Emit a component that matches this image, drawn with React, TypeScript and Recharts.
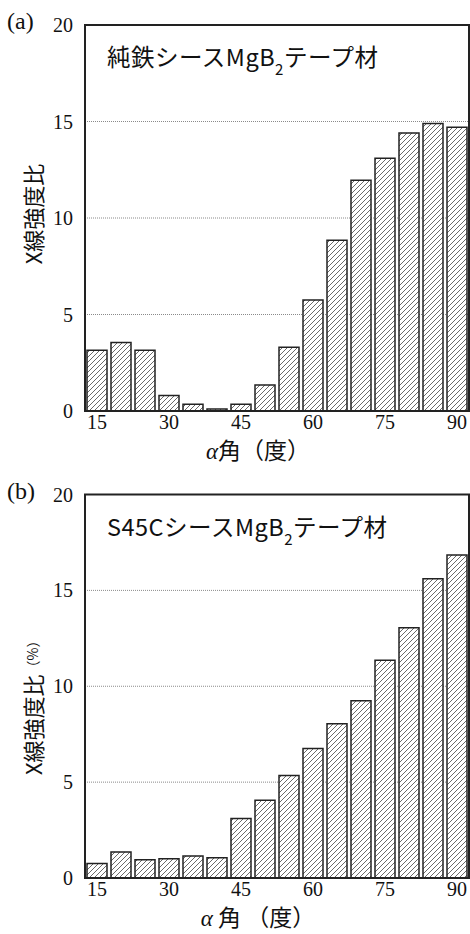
import React from "react";
import {
  BarChart,
  Bar,
  XAxis,
  YAxis,
  CartesianGrid,
  ReferenceArea,
} from "recharts";

const angles = [15, 20, 25, 30, 35, 40, 45, 50, 55, 60, 65, 70, 75, 80, 85, 90];
const pureIronRatio = [3.15, 3.55, 3.15, 0.8, 0.35, 0.1, 0.35, 1.35, 3.3, 5.75, 8.85, 11.95, 13.1, 14.4, 14.9, 14.7];
const s45cRatio = [0.75, 1.35, 0.95, 1.0, 1.15, 1.05, 3.1, 4.05, 5.35, 6.75, 8.05, 9.25, 11.35, 13.05, 15.6, 16.85];
const yTicks = [0, 5, 10, 15, 20];

const serif = "'Liberation Serif', 'DejaVu Serif', serif";
const sans = "'Noto Sans CJK JP', 'Noto Sans', sans-serif";

interface PanelProps {
  id: string;
  tag: string;
  titleHead: string;
  values: number[];
  yLabel: React.ReactNode;
  yLabelShift: number;
  xLabelGap: boolean;
  top: number;
}

function Panel({ id, tag, titleHead, values, yLabel, yLabelShift, xLabelGap, top }: PanelProps) {
  const data = angles.map((a, i) => ({ angle: a, ratio: values[i] }));
  const shift = top > 0 ? 2.5 : 0;

  const xLabel = (props: any) => {
    const vb = props.viewBox;
    return (
      <text
        x={vb.x + vb.width / 2 - 19}
        y={vb.y + 48}
        textAnchor="middle"
        fontSize={23}
        fill="#111"
      >
        <tspan fontFamily={serif} fontStyle="italic">α</tspan>
        <tspan fontFamily={sans}>{xLabelGap ? " 角 （度）" : "角（度）"}</tspan>
      </text>
    );
  };

  const yLabelContent = (props: any) => {
    const vb = props.viewBox;
    const cx = 32;
    const cy = vb.y + vb.height / 2 + yLabelShift;
    return (
      <text
        x={cx}
        y={cy}
        transform={`rotate(-90 ${cx} ${cy})`}
        textAnchor="middle"
        dominantBaseline="central"
        fontFamily={sans}
        fontSize={22}
        fill="#111"
      >
        {yLabel}
      </text>
    );
  };

  return (
    <div style={{ position: "absolute", left: 0, top, width: 470, height: 467 }}>
      <BarChart
        width={470}
        height={467}
        data={data}
        margin={{ top: 25 + shift, right: 1, left: 0, bottom: 0 }}
        barSize={20}
      >
        <defs>
          <pattern id={id} patternUnits="userSpaceOnUse" width={5} height={5}>
            <rect width={5} height={5} fill="#fff" />
            <path d="M0,5 L5,0 M-1,1 L1,-1 M4,6 L6,4" stroke="#444" strokeWidth={0.8} />
          </pattern>
        </defs>
        <CartesianGrid vertical={false} stroke="#8a8a8a" strokeDasharray="1 1" />
        <XAxis
          dataKey="angle"
          interval={2}
          height={56}
          tickSize={0}
          tickMargin={4}
          axisLine={{ stroke: "#222", strokeWidth: 2 }}
          tick={{ fill: "#111", fontSize: 20, fontFamily: serif }}
          label={{ content: xLabel }}
        />
        <YAxis
          domain={[0, 20]}
          ticks={yTicks}
          width={85}
          tickSize={0}
          tickMargin={12}
          axisLine={{ stroke: "#222", strokeWidth: 2 }}
          tick={{ fill: "#111", fontSize: 20, fontFamily: serif }}
          label={{ content: yLabelContent }}
        />
        <ReferenceArea y1={0} y2={20} fill="none" stroke="#222" strokeWidth={2} />
        <Bar
          dataKey="ratio"
          fill={`url(#${id})`}
          stroke="#222"
          strokeWidth={1.5}
          isAnimationActive={false}
        />
      </BarChart>
      <div
        style={{
          position: "absolute",
          left: 7,
          top: 8 + shift,
          fontFamily: serif,
          fontSize: 24,
          color: "#111",
        }}
      >
        {tag}
      </div>
      <div
        style={{
          position: "absolute",
          left: 107,
          top: 41 + shift,
          fontFamily: sans,
          fontSize: 23.5,
          letterSpacing: 0.5,
          color: "#111",
          whiteSpace: "nowrap",
          lineHeight: "30px",
        }}
      >
        {titleHead}MgB
        <span style={{ fontSize: 15, position: "relative", top: 9 }}>2</span>
        テープ材
      </div>
    </div>
  );
}

export default function App() {
  return (
    <div style={{ position: "absolute", left: 0, top: 0, width: 470, height: 934, background: "#fff" }}>
      <Panel
        id="hatchA"
        tag="(a)"
        titleHead="純鉄シース"
        values={pureIronRatio}
        yLabel="X線強度比"
        yLabelShift={-4}
        xLabelGap={false}
        top={0}
      />
      <Panel
        id="hatchB"
        tag="(b)"
        titleHead="S45Cシース"
        values={s45cRatio}
        yLabel={
          <>
            X線強度比
            <tspan fontSize={14}>（%）</tspan>
          </>
        }
        yLabelShift={18}
        xLabelGap={true}
        top={467}
      />
    </div>
  );
}
